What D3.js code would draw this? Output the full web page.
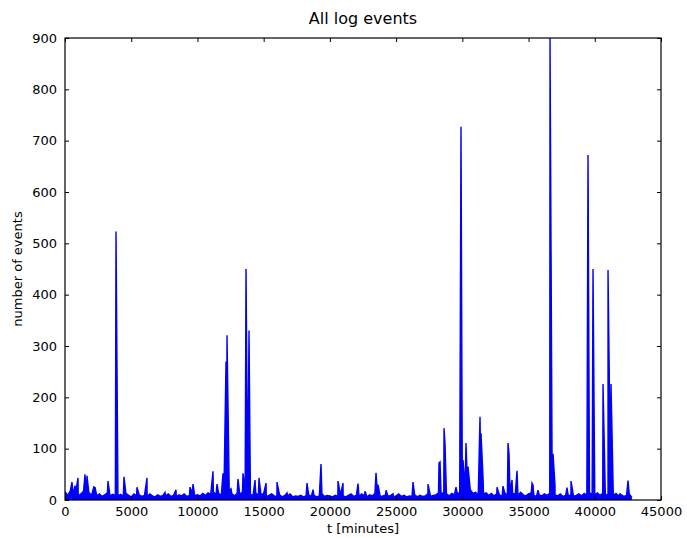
<!DOCTYPE html>
<html>
<head>
<meta charset="utf-8">
<script src="https://cdn.jsdelivr.net/npm/d3@7"></script>
<style>
  html, body { margin: 0; padding: 0; background: #fff; }
  svg { display: block; font-family: "DejaVu Sans", sans-serif; }
</style>
</head>
<body>
<svg id="chart" width="687" height="538"></svg>
<script>
// ---- data ----
const xTicks = [0, 5000, 10000, 15000, 20000, 25000, 30000, 35000, 40000, 45000];
const yTicks = [0, 100, 200, 300, 400, 500, 600, 700, 800, 900];

// background level, sampled every 200 minutes from t = 0
const baselineStep = 200;
const baselineValues = [
  16, 9, 18, 11, 14, 8, 12, 17, 10, 15,
  9, 13, 8, 12, 7, 10, 14, 8, 11, 9,
  8, 11, 7, 13, 9, 6, 12, 8, 10, 7,
  9, 7, 12, 8, 6, 10, 7, 9, 8, 12,
  7, 9, 6, 10, 8, 12, 7, 9, 13, 8,
  10, 8, 13, 9, 14, 11, 16, 10, 13, 9,
  14, 9, 18, 12, 8, 13, 10, 16, 19, 14,
  11, 9, 14, 8, 10, 13, 7, 9, 12, 8,
  7, 10, 6, 9, 8, 12, 6, 8, 7, 9,
  6, 8, 10, 7, 9, 6, 8, 12, 7, 9,
  8, 6, 9, 7, 10, 8, 6, 9, 12, 7,
  9, 7, 12, 8, 6, 10, 8, 13, 9, 7,
  8, 10, 7, 9, 6, 8, 12, 7, 9, 6,
  8, 7, 10, 6, 9, 7, 8, 12, 7, 9,
  10, 14, 9, 16, 12, 8, 13, 10, 15, 12,
  18, 24, 16, 20, 13, 15, 10, 17, 12, 14,
  9, 13, 8, 12, 10, 7, 14, 9, 16, 12,
  13, 9, 15, 10, 8, 12, 14, 9, 7, 10,
  8, 12, 9, 13, 16, 10, 8, 12, 7, 9,
  8, 10, 7, 9, 12, 8, 13, 9, 14, 12,
  10, 14, 9, 13, 8, 12, 15, 9, 13, 8,
  10, 7, 9, 12, 5
];

// bursts: [t minutes, number of events]
const peaks = [
  [528, 35], [755, 28], [982, 43], [1510, 50], [1661, 47], [2190, 27], [2265, 25],
  [3247, 37], [3851, 523], [4455, 45], [5436, 25], [6191, 43], [7550, 15],
  [8380, 20], [9438, 25], [9665, 31], [11175, 56], [11477, 31], [11930, 52],
  [12157, 270], [12232, 321], [12534, 22], [13062, 41], [13440, 52], [13667, 450],
  [13893, 330], [14346, 39], [14648, 43], [15177, 33], [16007, 35], [16762, 14],
  [18273, 33], [18726, 20], [19330, 70], [20613, 37], [20991, 33], [22123, 32],
  [22652, 17], [23482, 53], [23633, 30], [24237, 19], [24766, 12], [26276, 35],
  [27409, 31], [28239, 72], [28315, 74], [28617, 140], [28692, 110], [29523, 25],
  [29900, 727], [30051, 78], [30278, 111], [30429, 65], [31335, 162], [31410, 130],
  [31561, 45], [32619, 25], [33072, 27], [33449, 111], [33525, 90], [33751, 39],
  [34129, 57], [35262, 33], [35337, 29], [35715, 19], [36621, 900], [36772, 95],
  [36847, 90], [36998, 28], [37904, 24], [38206, 37], [39490, 672], [39867, 450],
  [40622, 226], [41000, 448], [41226, 226], [41905, 12], [42509, 38]
];

// ---- layout ----
const svg = d3.select("#chart");
const m = { left: 65, right: 661, top: 38, bottom: 500 };

const x = d3.scaleLinear().domain([0, 45000]).range([m.left, m.right]);
const y = d3.scaleLinear().domain([0, 900]).range([m.bottom, m.top]);

const series = baselineValues.map((v, i) => [i * baselineStep, v])
  .concat(peaks)
  .sort((a, b) => a[0] - b[0]);

const clipId = "plotclip";
svg.append("clipPath").attr("id", clipId).append("rect")
  .attr("x", m.left).attr("y", m.top)
  .attr("width", m.right - m.left).attr("height", m.bottom - m.top);

const plot = svg.append("g").attr("clip-path", `url(#${clipId})`);

plot.append("path")
  .datum(series)
  .attr("fill", "#0000ff")
  .attr("d", d3.area().x(d => x(d[0])).y0(y(0)).y1(d => y(d[1])));

plot.append("path")
  .datum(series)
  .attr("fill", "none")
  .attr("stroke", "#0000ff")
  .attr("stroke-width", 1.4)
  .attr("stroke-linejoin", "miter")
  .attr("d", d3.line().x(d => x(d[0])).y(d => y(d[1])));

// ---- axes (matplotlib classic style: inward ticks on all sides) ----
const tickLen = 4;
const fontSize = 13;

const xb = svg.append("g").attr("transform", `translate(0,${m.bottom})`)
  .call(d3.axisBottom(x).tickValues(xTicks).tickSize(-tickLen).tickPadding(7).tickFormat(d3.format("d")));
const xt = svg.append("g").attr("transform", `translate(0,${m.top})`)
  .call(d3.axisTop(x).tickValues(xTicks).tickSize(-tickLen).tickFormat(""));
const yl = svg.append("g").attr("transform", `translate(${m.left},0)`)
  .call(d3.axisLeft(y).tickValues(yTicks).tickSize(-tickLen).tickPadding(8).tickFormat(d3.format("d")));
const yr = svg.append("g").attr("transform", `translate(${m.right},0)`)
  .call(d3.axisRight(y).tickValues(yTicks).tickSize(-tickLen).tickFormat(""));

[xb, xt, yl, yr].forEach(g => {
  g.select(".domain").remove();
  g.selectAll(".tick line").attr("stroke", "#000").attr("stroke-width", 1);
  g.selectAll(".tick text").attr("fill", "#000").style("font-size", fontSize + "px")
    .style("font-family", "'DejaVu Sans', sans-serif");
});

// frame
svg.append("rect")
  .attr("x", m.left).attr("y", m.top)
  .attr("width", m.right - m.left).attr("height", m.bottom - m.top)
  .attr("fill", "none").attr("stroke", "#000").attr("stroke-width", 1.2);

// title and labels
svg.append("text")
  .attr("x", (m.left + m.right) / 2).attr("y", 24)
  .attr("text-anchor", "middle")
  .style("font-size", "16px")
  .text("All log events");

svg.append("text")
  .attr("x", (m.left + m.right) / 2).attr("y", 533)
  .attr("text-anchor", "middle")
  .style("font-size", fontSize + "px")
  .text("t [minutes]");

svg.append("text")
  .attr("transform", `translate(22,${(m.top + m.bottom) / 2}) rotate(-90)`)
  .attr("text-anchor", "middle")
  .style("font-size", fontSize + "px")
  .text("number of events");
</script>
</body>
</html>
